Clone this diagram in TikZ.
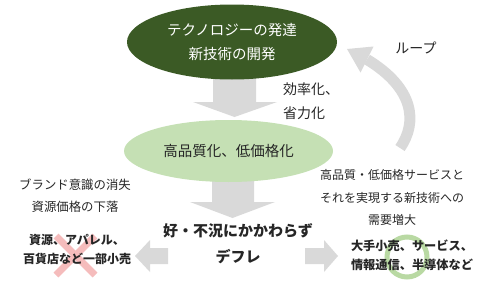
\documentclass[tikz,border=0pt]{standalone}
\usepackage{fontspec}
\setmainfont{Noto Sans CJK JP}
\usetikzlibrary{shapes.geometric}
\definecolor{dkgreen}{HTML}{3B5A25}
\definecolor{ltgreen}{HTML}{C5E0B4}
\definecolor{arrgray}{HTML}{D9D9D9}
\definecolor{xpink}{HTML}{F5BCBC}
\definecolor{ogreen}{HTML}{B9D9A3}
\definecolor{txt}{HTML}{262626}
\tikzset{
  blob/.style={ellipse, inner sep=0pt, align=center},
  plain/.style={inner sep=0pt, align=center, text=txt},
  blockarrow/.style={fill=arrgray, draw=none},
}
\begin{document}
\begin{tikzpicture}[x=1pt,y=-1pt]
\useasboundingbox (0,0) rectangle (481,289);
% block arrows
\fill[blockarrow] (213,70) -- (256,70) -- (256,102) -- (277,102) -- (234.5,117) -- (193,102) -- (213,102) -- cycle;
\fill[blockarrow] (212,175) -- (254,175) -- (254,202) -- (275,202) -- (232.5,218) -- (190,202) -- (212,202) -- cycle;
\fill[blockarrow] (168,248) -- (150,248) -- (150,240) -- (135,256) -- (150,272) -- (150,264) -- (168,264) -- cycle;
\fill[blockarrow] (305,248) -- (324,248) -- (324,240) -- (338,256) -- (324,272) -- (324,264) -- (305,264) -- cycle;
% loop arrow
\draw[arrgray, line width=11pt] (400,148) .. controls (418,122) and (414,88) .. (367,59.5);
\fill[arrgray] (347,49) -- (373.5,46.5) -- (360.5,72.5) -- cycle;
% ellipses
\node[blob, fill=dkgreen, text=white, minimum width=210, minimum height=75,
  font=\fontsize{14.5}{24}\selectfont] (tech) at (232,42) {テクノロジーの発達\\新技術の開発};
\node[blob, fill=ltgreen, text=txt, minimum width=209, minimum height=62,
  font=\fontsize{14.5}{24}\selectfont] (qual) at (228.5,151) {高品質化、低価格化};
% marks behind text
\draw[xpink, line width=7pt] (56,236) -- (95,275);
\draw[xpink, line width=7pt] (95,236) -- (56,275);
\draw[ogreen, line width=5pt] (407,257) circle (20);
% texts
\node[plain, align=left, anchor=west, font=\fontsize{14}{24}\selectfont] (eff) at (283,101) {効率化、\\省力化};
\node[plain, font=\fontsize{14}{17}\selectfont] (loop) at (416,48) {ループ};
\node[plain, font=\fontsize{12.4}{22}\selectfont] (cause) at (75,196) {ブランド意識の消失\\資源価格の下落};
\node[plain, font=\fontsize{12}{22.5}\selectfont] (demand) at (392,197.5) {高品質・低価格サービスと\\それを実現する新技術への\\需要増大};
\node[plain, font=\bfseries\fontsize{15}{26}\selectfont] (defl) at (238,244) {好・不況にかかわらず\\デフレ};
\node[plain, font=\bfseries\fontsize{12}{19}\selectfont] (lose) at (77,249.5) {資源、アパレル、\\百貨店など一部小売};
\node[plain, font=\bfseries\fontsize{12.2}{19}\selectfont] (win) at (412,255.5) {大手小売、サービス、\\情報通信、半導体など};
\end{tikzpicture}
\end{document}
